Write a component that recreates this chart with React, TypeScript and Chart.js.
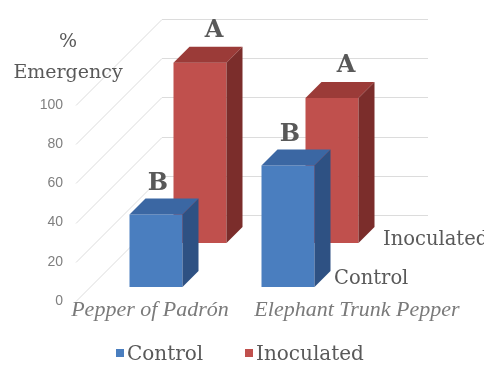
import { useEffect, useRef } from 'react';
import { Chart, registerables } from 'chart.js';

Chart.register(...registerables);

// ---- data ----
const categories = ['Pepper of Padrón', 'Elephant Trunk Pepper'];
const seriesNames = ['Control', 'Inoculated'];
const controlValues = [37, 62];
const inoculatedValues = [92, 74];
const controlLetters = ['B', 'B'];
const inoculatedLetters = ['A', 'A'];
const yTickValues = [0, 20, 40, 60, 80, 100];
const axisTitleLines = ['%', 'Emergency'];

// ---- styling / layout constants ----
const ROW_DEPTH = [14, 58]; // per dataset: Control (front row), Inoculated (back row)
const BOX_DEPTH = 16;
const WALL_DEPTH = 86;
const WALL_RIGHT = 428;
const FACE = [
  { front: '#4a7ebf', top: '#3b67a3', side: '#2e5183' },
  { front: '#c0504d', top: '#9b3b38', side: '#7b2d2b' },
];
const LETTER_DX = [2, 14];
const LETTER_GAP = [8, 10];
const CAT_SHIFT = [8, 83];
const SERIF = '"DejaVu Serif"';
const TEXT = '#595959';

const letters = [controlLetters, inoculatedLetters];

const chart3d = {
  id: 'chart3d',
  beforeDatasetsDraw(chart: any) {
    const ctx = chart.ctx as CanvasRenderingContext2D;
    const { left } = chart.chartArea;
    const y = chart.scales.y;
    ctx.save();
    ctx.strokeStyle = '#dcdcdc';
    ctx.lineWidth = 1;
    y.ticks.forEach((t: any) => {
      const py = Math.round(y.getPixelForValue(t.value)) + 0.5;
      ctx.beginPath();
      ctx.moveTo(left, py);
      ctx.lineTo(left + WALL_DEPTH, py - WALL_DEPTH);
      ctx.lineTo(WALL_RIGHT, py - WALL_DEPTH);
      ctx.stroke();
    });
    // back row first, then front row
    [1, 0].forEach((di) => {
      const meta = chart.getDatasetMeta(di);
      const d = ROW_DEPTH[di];
      const b = BOX_DEPTH;
      const col = FACE[di];
      meta.data.forEach((el: any) => {
        const w = el.width;
        const x0 = el.x - w / 2 + d;
        const x1 = x0 + w;
        const yt = el.y - d;
        const yb = el.base - d;
        ctx.fillStyle = col.front;
        ctx.fillRect(x0, yt, w, yb - yt);
        ctx.fillStyle = col.top;
        ctx.beginPath();
        ctx.moveTo(x0, yt);
        ctx.lineTo(x1, yt);
        ctx.lineTo(x1 + b, yt - b);
        ctx.lineTo(x0 + b, yt - b);
        ctx.closePath();
        ctx.fill();
        ctx.fillStyle = col.side;
        ctx.beginPath();
        ctx.moveTo(x1, yt);
        ctx.lineTo(x1 + b, yt - b);
        ctx.lineTo(x1 + b, yb - b);
        ctx.lineTo(x1, yb);
        ctx.closePath();
        ctx.fill();
      });
    });
    ctx.restore();
    return false;
  },
  afterDraw(chart: any) {
    const ctx = chart.ctx as CanvasRenderingContext2D;
    const { right } = chart.chartArea;
    const xs = chart.scales.x;
    const y0 = chart.scales.y.getPixelForValue(0);
    ctx.save();
    ctx.fillStyle = TEXT;
    ctx.textBaseline = 'alphabetic';

    // axis title
    ctx.textAlign = 'center';
    ctx.font = `19px ${SERIF}`;
    ctx.fillText(axisTitleLines[0], 68, 47);
    ctx.fillText(axisTitleLines[1], 68, 78);

    // letters above bars
    ctx.font = `bold 24px ${SERIF}`;
    [0, 1].forEach((di) => {
      const meta = chart.getDatasetMeta(di);
      meta.data.forEach((el: any, i: number) => {
        const d = ROW_DEPTH[di];
        ctx.fillText(letters[di][i], el.x + d + LETTER_DX[di], el.y - d - BOX_DEPTH - LETTER_GAP[di]);
      });
    });

    // category labels
    ctx.font = `italic 22px "Liberation Serif"`;
    ctx.fillStyle = '#7a7a7a';
    categories.forEach((c, i) => {
      ctx.fillText(c, xs.getPixelForValue(i) + CAT_SHIFT[i], 316);
    });

    // depth (series) labels
    ctx.fillStyle = TEXT;
    ctx.textAlign = 'left';
    ctx.font = `19.5px ${SERIF}`;
    ctx.fillText(seriesNames[0], right - 6, y0 - 17);
    ctx.fillText(seriesNames[1], right + 43, y0 - 56);

    // legend
    const legendX = [116, 245];
    ctx.font = `20px ${SERIF}`;
    seriesNames.forEach((n, i) => {
      ctx.fillStyle = FACE[i].front;
      ctx.fillRect(legendX[i], 349, 8, 8);
      ctx.fillStyle = TEXT;
      ctx.fillText(n, legendX[i] + 11, 360);
    });
    ctx.restore();
  },
};

export default function App() {
  const ref = useRef<HTMLCanvasElement | null>(null);
  useEffect(() => {
    if (!ref.current) return;
    const chart = new Chart(ref.current, {
      type: 'bar',
      data: {
        labels: categories,
        datasets: [
          { label: seriesNames[0], data: controlValues, backgroundColor: FACE[0].front },
          { label: seriesNames[1], data: inoculatedValues, backgroundColor: FACE[1].front },
        ],
      },
      options: {
        animation: false,
        responsive: false,
        events: [],
        datasets: { bar: { grouped: false, barThickness: 53 } as any },
        layout: { padding: { left: 30, right: 144, top: 105, bottom: 64 } },
        plugins: { legend: { display: false }, tooltip: { enabled: false }, title: { display: false } },
        scales: {
          x: { type: 'category', display: false, offset: true },
          y: {
            min: 0,
            max: 100,
            afterBuildTicks: (scale: any) => {
              scale.ticks = yTickValues.map((v) => ({ value: v }));
            },
            afterFit: (scale: any) => {
              scale.width = 46;
            },
            grid: { display: false, drawTicks: false },
            border: { display: false },
            ticks: {
              padding: 13,
              color: '#7f7f7f',
              font: { family: '"Liberation Sans"', size: 14 },
            },
          },
        },
      },
      plugins: [chart3d],
    });
    return () => chart.destroy();
  }, []);
  return (
    <div style={{ position: 'fixed', left: 0, top: 0, width: 484, height: 365, background: '#fff' }}>
      <canvas ref={ref} width={484} height={365} style={{ display: 'block' }} />
    </div>
  );
}
